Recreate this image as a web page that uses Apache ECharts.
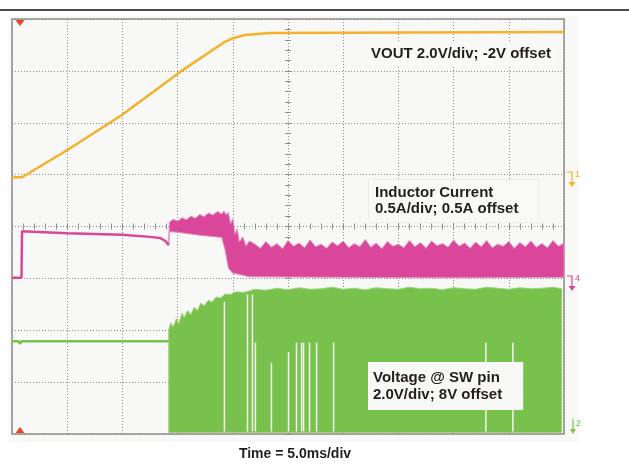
<!DOCTYPE html>
<html>
<head>
<meta charset="utf-8">
<script src="https://cdn.jsdelivr.net/npm/echarts@6/dist/echarts.min.js"></script>
<style>
  html, body { margin: 0; padding: 0; background: #fff; }
  #chart { width: 629px; height: 466px; }
</style>
</head>
<body>
<div id="chart"></div>
<script>
// time in ms (5 ms/div), amplitude in scope divisions (0 = bottom of screen)
var voutTrace = [[0, 4.95], [0.91, 4.95], [4.98, 5.47], [9.96, 6.15], [15.22, 6.98],
  [19.29, 7.56], [20.02, 7.63], [21.11, 7.69], [23.37, 7.73], [50, 7.75]];

var pinkStart = [[0, 3.01], [0.86, 3.01], [0.91, 3.91], [4.98, 3.87], [9.96, 3.84],
  [12.5, 3.80], [13.4, 3.78], [13.9, 3.72], [14.2, 3.64]];

var pinkTop = [[14.2, 3.64], [14.25, 4.08], [14.6, 4.14], [15.0, 4.10], [15.4, 4.17], [15.8, 4.13],
  [16.2, 4.20], [16.6, 4.16], [17.0, 4.23], [17.4, 4.19], [17.8, 4.26], [18.2, 4.22], [18.6, 4.29],
  [19.0, 4.24], [19.2, 4.30], [19.4, 4.22], [19.6, 4.27], [19.8, 4.05], [20.0, 4.15], [20.2, 3.85],
  [20.4, 3.95], [20.6, 3.70], [20.9, 3.80], [21.2, 3.62], [21.5, 3.72],
  [22, 3.66], [22.5, 3.58], [23, 3.71], [23.5, 3.60], [24, 3.67], [24.5, 3.57], [25, 3.73], [25.5, 3.62],
  [26, 3.68], [26.5, 3.59], [27, 3.74], [27.5, 3.61], [28, 3.66], [28.5, 3.58], [29, 3.70], [29.5, 3.63],
  [30, 3.72], [30.5, 3.59], [31, 3.67], [31.5, 3.61], [32, 3.75], [32.5, 3.60], [33, 3.68], [33.5, 3.57],
  [34, 3.71], [34.5, 3.62], [35, 3.66], [35.5, 3.59], [36, 3.73], [36.5, 3.61], [37, 3.69], [37.5, 3.58],
  [38, 3.72], [38.5, 3.63], [39, 3.67], [39.5, 3.60], [40, 3.74], [40.5, 3.62], [41, 3.68], [41.5, 3.58],
  [42, 3.70], [42.5, 3.61], [43, 3.73], [43.5, 3.59], [44, 3.66], [44.5, 3.62], [45, 3.71], [45.5, 3.58],
  [46, 3.69], [46.5, 3.61], [47, 3.72], [47.5, 3.60], [48, 3.67], [48.5, 3.59], [49, 3.73], [49.5, 3.62],
  [50, 3.68]];
var pinkBottom = [[14.2, 3.64], [14.25, 3.90], [15.0, 3.89], [16.0, 3.86], [17.0, 3.83], [18.0, 3.81],
  [19.0, 3.79], [19.3, 3.55], [19.6, 3.20], [20.0, 3.10], [20.5, 3.08], [21.5, 3.03], [30, 3.02],
  [40, 3.01], [50, 3.02]];

var greenStart = [[0, 1.79], [0.6, 1.79], [0.7, 1.74], [0.9, 1.79], [14.2, 1.79]];
var greenTop = [[14.2, 2.02], [14.4, 2.14], [14.6, 2.06], [14.9, 2.22], [15.1, 2.12], [15.4, 2.33],
  [15.6, 2.24], [15.9, 2.38], [16.2, 2.30], [16.5, 2.44], [16.8, 2.38], [17.1, 2.52], [17.4, 2.47],
  [17.8, 2.58], [18.1, 2.54], [18.5, 2.64], [18.9, 2.62], [19.3, 2.70], [19.8, 2.69], [20.3, 2.74],
  [21, 2.73], [22, 2.79], [23, 2.77], [24, 2.81], [25, 2.78], [26, 2.82], [27, 2.79], [28, 2.80],
  [29, 2.83], [30, 2.79], [31, 2.81], [32, 2.78], [33, 2.82], [34, 2.80], [35, 2.79], [36, 2.83],
  [37, 2.80], [38, 2.81], [39, 2.78], [40, 2.82], [41, 2.80], [42, 2.79], [43, 2.83], [44, 2.81],
  [45, 2.79], [46, 2.82], [47, 2.80], [48, 2.81], [49, 2.83], [49.8, 2.80]];
var greenBottom = [[14.2, 0.03], [49.8, 0.03]];
// dropouts in the switch node trace: [time, top of gap]
var greenGaps = [[19.24, 2.55], [21.33, 2.69], [21.78, 2.69], [22.05, 1.76], [23.50, 1.37], [25.05, 1.58],
  [25.77, 1.76], [26.23, 1.76], [26.41, 1.76], [26.95, 1.76], [27.59, 1.76], [29.13, 1.76],
  [42.92, 1.76], [45.37, 1.76]];

var cOrange = '#f6b12c', cPink = '#d9469a', cGreen = '#79c14d';
var gridColor = '#8d8d8d';
var labelFont = 'bold 15px "Liberation Sans", Arial, sans-serif';

function band(top, bottom, fill, stroke, z) {
  return {
    type: 'custom', data: [[0, 0]], z: z, silent: true, animation: false,
    renderItem: function (params, api) {
      var pts = top.concat(bottom.slice().reverse()).map(function (p) { return api.coord(p); });
      return { type: 'polygon', shape: { points: pts }, style: { fill: fill, stroke: stroke, lineWidth: 1 } };
    }
  };
}

function tickAxis(pos, offset) {
  return {
    type: 'value', min: 0, max: pos === 'top' || pos === 'bottom' ? 50 : 8,
    interval: pos === 'top' || pos === 'bottom' ? 5 : 1,
    position: pos, offset: offset,
    axisLine: { show: false },
    axisTick: { show: true, length: 3, lineStyle: { color: gridColor } },
    minorTick: { show: true, splitNumber: 5, length: 3, lineStyle: { color: gridColor } },
    axisLabel: { show: false },
    splitLine: { show: false }
  };
}

var chart = echarts.init(document.getElementById('chart'));

var xMain = tickAxis('bottom', -207.5);
xMain.splitLine = { show: true, lineStyle: { color: gridColor, type: [1, 2], width: 1 } };
var yMain = tickAxis('left', -276);
yMain.splitLine = { show: true, lineStyle: { color: gridColor, type: [1, 2], width: 1 } };

chart.setOption({
  animation: false,
  grid: {
    left: 12, right: 65, top: 19, bottom: 32,
    show: true, backgroundColor: '#f8f8f6', borderColor: gridColor, borderWidth: 1.5,
    outerBoundsMode: 'none'
  },
  xAxis: [xMain, tickAxis('top', -207.5)],
  yAxis: [yMain, tickAxis('right', -276)],
  series: [
    band(greenTop, greenBottom, cGreen, '#9fd37e', 2),
    {
      type: 'custom', data: greenGaps, z: 3, silent: true, animation: false,
      renderItem: function (params, api) {
        var p1 = api.coord([api.value(0), api.value(1)]);
        var p0 = api.coord([api.value(0), 0.05]);
        return { type: 'rect', shape: { x: p1[0] - 0.75, y: p1[1], width: 1.5, height: p0[1] - p1[1] },
          style: { fill: '#f3f6ee' } };
      }
    },
    { type: 'line', data: greenStart, showSymbol: false, z: 3, lineStyle: { color: cGreen, width: 2.5 } },
    band(pinkTop, pinkBottom, cPink, '#e68fc2', 4),
    { type: 'line', data: pinkStart, showSymbol: false, z: 5, lineStyle: { color: cPink, width: 2.5 } },
    { type: 'line', data: voutTrace, showSymbol: false, z: 6, lineStyle: { color: cOrange, width: 2.5 } }
  ],
  graphic: [
    { type: 'rect', z: -10, shape: { x: 9, y: 16, width: 570, height: 426 }, style: { fill: '#f8f8f6' } },
    { type: 'line', shape: { x1: 0, y1: 10, x2: 629, y2: 10 }, style: { stroke: '#111', lineWidth: 1.5 } },
    // trigger markers
    { type: 'polygon', z: 10, shape: { points: [[15.5, 20], [24.5, 20], [20, 26]] }, style: { fill: '#e8442b' } },
    { type: 'polygon', z: 10, shape: { points: [[15.5, 433], [24.5, 433], [20, 427]] }, style: { fill: '#e8442b' } },
    // channel ground markers
    { type: 'polyline', shape: { points: [[567, 172], [572, 172], [572, 182]] }, style: { stroke: cOrange, lineWidth: 1.2, fill: null } },
    { type: 'polygon', shape: { points: [[568.5, 182], [575.5, 182], [572, 187]] }, style: { fill: cOrange } },
    { type: 'text', style: { x: 575, y: 170, text: '1', font: '9px "Liberation Sans", Arial', fill: cOrange } },
    { type: 'polyline', shape: { points: [[567, 276], [572, 276], [572, 286]] }, style: { stroke: cPink, lineWidth: 1.2, fill: null } },
    { type: 'polygon', shape: { points: [[568.5, 286], [575.5, 286], [572, 291]] }, style: { fill: cPink } },
    { type: 'text', style: { x: 575, y: 274, text: '4', font: '9px "Liberation Sans", Arial', fill: cPink } },
    { type: 'polyline', shape: { points: [[573, 419], [573, 430]] }, style: { stroke: cGreen, lineWidth: 1.2, fill: null } },
    { type: 'polygon', shape: { points: [[570, 429], [576, 429], [573, 434]] }, style: { fill: cGreen } },
    { type: 'text', style: { x: 576, y: 419, text: '2', font: '9px "Liberation Sans", Arial', fill: cGreen } },
    // annotations
    { type: 'text', z: 20, style: { x: 369, y: 54, verticalAlign: 'middle', text: 'VOUT 2.0V/div; -2V offset',
      font: labelFont, fill: '#231f20', backgroundColor: '#f9f9f8', padding: [5, 4, 5, 2] } },
    { type: 'text', z: 20, style: { x: 369, y: 201, verticalAlign: 'middle', lineHeight: 16,
      text: 'Inductor Current\n0.5A/div; 0.5A offset', font: labelFont, fill: '#231f20',
      backgroundColor: '#f9f9f8', borderColor: '#ededeb', borderWidth: 1, padding: [5, 20, 5, 6] } },
    { type: 'text', z: 20, style: { x: 368, y: 386, verticalAlign: 'middle', lineHeight: 17,
      text: 'Voltage @ SW pin\n2.0V/div; 8V offset', font: labelFont, fill: '#231f20',
      backgroundColor: '#f8f8f6', padding: [7, 21, 7, 5] } },
    { type: 'text', style: { x: 295, y: 454, align: 'center', verticalAlign: 'middle', text: 'Time = 5.0ms/div',
      font: 'bold 14px "Liberation Sans", Arial, sans-serif', fill: '#231f20' } }
  ]
});
</script>
</body>
</html>
